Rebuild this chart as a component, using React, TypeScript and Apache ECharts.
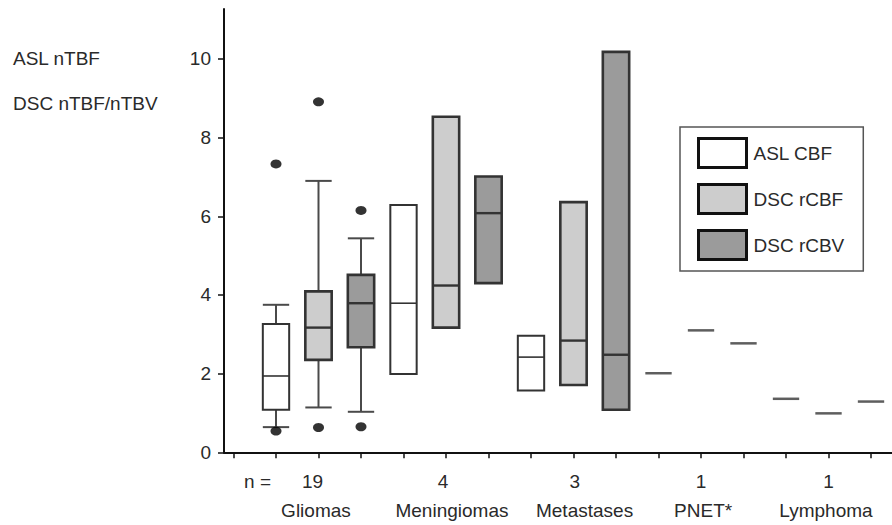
import React, { useEffect, useRef } from 'react';
import * as echarts from 'echarts';

// ---- data ----
const groups = ['Gliomas', 'Meningiomas', 'Metastases', 'PNET*', 'Lymphoma'];
const counts = [19, 4, 3, 1, 1];
const modalities = ['ASL CBF', 'DSC rCBF', 'DSC rCBV'];
// label positions along the slot axis
const countLabelPos = [1.86, 4.93, 8.03, 11.0, 14.0];
const groupLabelPos = [1.94, 5.14, 8.26, 11.05, 13.94];
const nLabelPos = 0.565;
const slotTicks = [0, 1, 2, 3, 4, 5, 6, 7, 8, 9, 10, 11, 12, 13, 14, 15];
const yTicks = [0, 2, 4, 6, 8, 10];

// [min, q1, median, q3, max] per group
const aslCbf = [
  [0.64, 1.08, 1.94, 3.26, 3.75],
  [1.99, 1.99, 3.79, 6.29, 6.29],
  [1.57, 1.57, 2.42, 2.96, 2.96],
  [2.01, 2.01, 2.01, 2.01, 2.01],
  [1.36, 1.36, 1.36, 1.36, 1.36],
];
const dscRcbf = [
  [1.14, 2.35, 3.17, 4.09, 6.9],
  [3.17, 3.17, 4.24, 8.53, 8.53],
  [1.71, 1.71, 2.84, 6.36, 6.36],
  [3.1, 3.1, 3.1, 3.1, 3.1],
  [0.99, 0.99, 0.99, 0.99, 0.99],
];
const dscRcbv = [
  [1.03, 2.67, 3.79, 4.51, 5.44],
  [4.3, 4.3, 6.08, 7.01, 7.01],
  [1.08, 1.08, 2.48, 10.18, 10.18],
  [2.77, 2.77, 2.77, 2.77, 2.77],
  [1.29, 1.29, 1.29, 1.29, 1.29],
];
// outliers (gliomas only)
const aslOutliers = [7.33, 0.54];
const rcbfOutliers = [8.91, 0.63];
const rcbvOutliers = [6.15, 0.65];

const fills = ['#ffffff', '#cdcdcd', '#9b9b9b'];
const FONT = 'Liberation Sans, Arial, sans-serif';
const TXT = '#2a2a2a';

function slotOf(g: number, m: number) {
  return 1 + g * 3 + m;
}

function nearestIndex(arr: number[], v: number) {
  let best = 0;
  for (let i = 1; i < arr.length; i++) if (Math.abs(arr[i] - v) < Math.abs(arr[best] - v)) best = i;
  return best;
}

export default function App() {
  const ref = useRef<HTMLDivElement>(null);
  useEffect(() => {
    if (!ref.current) return;
    const chart = echarts.init(ref.current, undefined, { renderer: 'svg' });
    const allBoxes = [aslCbf, dscRcbf, dscRcbv];
    const allOut = [aslOutliers, rcbfOutliers, rcbvOutliers];
    const boxW = 0.62;

    const series: any[] = allBoxes.map((boxes, m) => ({
      type: 'custom',
      name: modalities[m],
      xAxisIndex: 0,
      yAxisIndex: 0,
      itemStyle: { color: fills[m], borderColor: '#222', borderWidth: 3 },
      encode: { x: 0, y: [1, 2, 3, 4, 5] },
      data: boxes.map((b, g) => [slotOf(g, m), ...b]),
      renderItem: (params: any, api: any) => {
        const x = api.value(0);
        const mn = api.value(1), q1 = api.value(2), md = api.value(3), q3 = api.value(4), mx = api.value(5);
        const w = api.size([boxW, 0])[0];
        const cx = api.coord([x, 0])[0];
        const py = (v: number) => api.coord([x, v])[1];
        const children: any[] = [];
        const lineCol = '#4a4a4a';
        if (q1 === q3 && mn === mx) {
          children.push({
            type: 'line',
            shape: { x1: cx - w / 2, y1: py(md), x2: cx + w / 2, y2: py(md) },
            style: { stroke: '#5e5e5e', lineWidth: 2.5 },
          });
          return { type: 'group', children };
        }
        if (mx > q3) {
          children.push({ type: 'line', shape: { x1: cx, y1: py(q3), x2: cx, y2: py(mx) }, style: { stroke: lineCol, lineWidth: 2 } });
          children.push({ type: 'line', shape: { x1: cx - w / 2, y1: py(mx), x2: cx + w / 2, y2: py(mx) }, style: { stroke: lineCol, lineWidth: 2 } });
        }
        if (mn < q1) {
          children.push({ type: 'line', shape: { x1: cx, y1: py(q1), x2: cx, y2: py(mn) }, style: { stroke: lineCol, lineWidth: 2 } });
          children.push({ type: 'line', shape: { x1: cx - w / 2, y1: py(mn), x2: cx + w / 2, y2: py(mn) }, style: { stroke: lineCol, lineWidth: 2 } });
        }
        const bw = m === 0 ? 2 : 2.6;
        children.push({
          type: 'rect',
          shape: { x: cx - w / 2, y: py(q3), width: w, height: py(q1) - py(q3) },
          style: { fill: fills[m], stroke: '#333', lineWidth: bw },
        });
        children.push({
          type: 'line',
          shape: { x1: cx - w / 2, y1: py(md), x2: cx + w / 2, y2: py(md) },
          style: { stroke: '#333', lineWidth: m === 0 ? 1.6 : 2.4 },
        });
        return { type: 'group', children };
      },
    }));

    allOut.forEach((vals, m) => {
      series.push({
        type: 'scatter',
        name: modalities[m] + ' outliers',
        symbol: 'circle',
        symbolSize: [11, 9],
        itemStyle: { color: '#000' },
        data: vals.map((v) => [slotOf(0, m), v]),
      });
    });

    const option: any = {
      animation: false,
      backgroundColor: '#fff',
      grid: { left: 224, top: 9, right: 0, bottom: 72.7, containLabel: false },
      legend: {
        orient: 'vertical',
        left: 680,
        top: 127,
        padding: [10, 19, 10, 17],
        itemGap: 14,
        itemWidth: 48,
        itemHeight: 29,
        borderColor: '#555',
        borderWidth: 1.5,
        borderRadius: 0,
        selectedMode: false,
        icon: 'rect',
        textStyle: { fontFamily: FONT, fontSize: 19, color: TXT, padding: [0, 0, 0, 2] },
        data: modalities.map((name, m) => ({
          name,
          itemStyle: { color: fills[m], borderColor: '#111', borderWidth: 3 },
        })),
      },
      xAxis: [
        {
          type: 'value',
          min: -0.2235,
          max: 15.494,
          splitLine: { show: false },
          axisLine: { show: true, onZero: false, lineStyle: { color: '#111', width: 2 } },
          axisTick: { show: true, customValues: slotTicks, length: 6, lineStyle: { color: '#111', width: 1.5 } },
          axisLabel: {
            customValues: [nLabelPos, ...countLabelPos],
            margin: 18.7,
            fontFamily: FONT,
            fontSize: 19,
            lineHeight: 20,
            color: TXT,
            formatter: (v: number) => {
              if (Math.abs(v - nLabelPos) < 0.05) return 'n =';
              return String(counts[nearestIndex(countLabelPos, v)]);
            },
          },
        },
        {
          type: 'value',
          min: -0.2235,
          max: 15.494,
          position: 'bottom',
          splitLine: { show: false },
          axisLine: { show: false, onZero: false },
          axisTick: { show: false },
          axisLabel: {
            customValues: groupLabelPos,
            margin: 48,
            fontFamily: FONT,
            fontSize: 19,
            lineHeight: 20,
            color: TXT,
            formatter: (v: number) => groups[nearestIndex(groupLabelPos, v)],
          },
        },
      ],
      yAxis: {
        type: 'value',
        min: 0,
        max: 11.27,
        splitLine: { show: false },
        axisLine: { show: true, onZero: false, lineStyle: { color: '#111', width: 2 } },
        axisTick: { show: true, customValues: yTicks, length: 6, lineStyle: { color: '#111', width: 1.5 } },
        axisLabel: {
          customValues: yTicks,
          margin: 13,
          fontFamily: FONT,
          fontSize: 19,
          color: TXT,
        },
      },
      graphic: [
        {
          type: 'text',
          left: 13,
          top: 49,
          style: { text: 'ASL nTBF', font: `19px ${FONT}`, fill: TXT },
        },
        {
          type: 'text',
          left: 13,
          top: 94,
          style: { text: 'DSC nTBF/nTBV', font: `19px ${FONT}`, fill: TXT },
        },
      ],
      series,
    };
    chart.setOption(option);
    return () => chart.dispose();
  }, []);
  return (
    <div
      ref={ref}
      style={{ position: 'absolute', left: 0, top: 0, width: 892, height: 525, background: '#fff' }}
    />
  );
}
